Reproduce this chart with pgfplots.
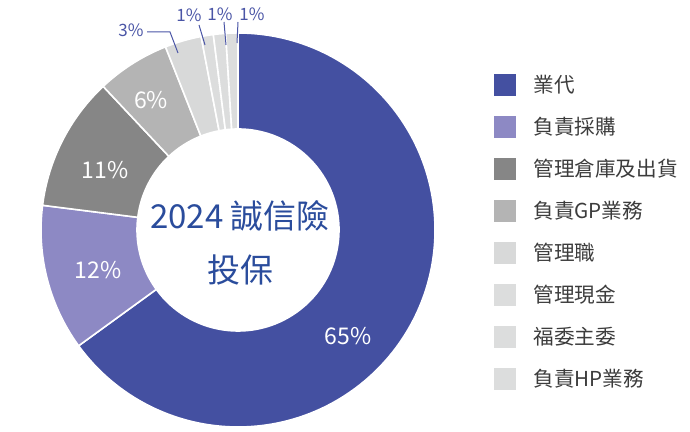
\documentclass[border=0pt]{standalone}
\usepackage{pgfplots}
\pgfplotsset{compat=1.18}
\usepackage{pgfplotstable}
\usepackage{fontspec}
\setmainfont{Noto Sans CJK TC}

\definecolor{sA}{HTML}{4450A1}
\definecolor{sB}{HTML}{8D89C4}
\definecolor{sC}{HTML}{868686}
\definecolor{sD}{HTML}{B4B4B4}
\definecolor{sE}{HTML}{D8D9D9}
\definecolor{sF}{HTML}{DCDDDD}
\definecolor{labblue}{HTML}{4A55A6}
\definecolor{ctrblue}{HTML}{2A4C9C}
\definecolor{legtxt}{HTML}{3C3C3C}

% share (%), slice colour, legend label
\pgfplotstableread[col sep=comma]{
value,col,name
65,sA,業代
12,sB,負責採購
11,sC,管理倉庫及出貨
6,sD,負責GP業務
3,sE,管理職
1,sF,管理現金
1,sF,福委主委
1,sF,負責HP業務
}\slices

\begin{document}
\begin{tikzpicture}
\begin{axis}[
    scale only axis,
    width=345pt, height=216pt, % 1 unit = 0.5pt, axis spans the whole picture
    xmin=0, xmax=690, ymin=0, ymax=432,
    hide axis, clip=false,
]
\path (axis cs:0,0) rectangle (axis cs:690,432);

% donut: centre (238,202), outer 197, inner 101 (axis units)
\def\cx{238}\def\cy{202}
\def\cum{0}
\pgfplotstablegetrowsof{\slices}
\pgfmathtruncatemacro\nlast{\pgfplotsretval-1}
\pgfplotsforeachungrouped \i in {0,...,\nlast} {
    \pgfplotstablegetelem{\i}{value}\of\slices \let\v\pgfplotsretval
    \pgfplotstablegetelem{\i}{col}\of\slices \let\c\pgfplotsretval
    \pgfplotstablegetelem{\i}{name}\of\slices \let\nm\pgfplotsretval
    \pgfmathsetmacro\aa{90-3.6*\cum}
    \pgfmathsetmacro\ab{90-3.6*(\cum+\v)}
    \pgfmathsetmacro\xa{\cx+197*cos(\aa)}\pgfmathsetmacro\ya{\cy+197*sin(\aa)}
    \pgfmathsetmacro\xb{\cx+101*cos(\ab)}\pgfmathsetmacro\yb{\cy+101*sin(\ab)}
    \edef\temp{\noexpand\fill[\c, draw=white, line width=0.8pt]
        (axis cs:\xa,\ya) arc[start angle=\aa, end angle=\ab, radius=98.5pt]
        -- (axis cs:\xb,\yb) arc[start angle=\ab, end angle=\aa, radius=50.5pt] -- cycle;}
    \temp
    % legend entry
    \pgfmathsetmacro\ly{432-85-42*\i}
    \edef\temp{\noexpand\fill[\c] (axis cs:494,{\ly-11}) rectangle (axis cs:516,{\ly+11});
        \noexpand\node[anchor=west, text=legtxt, font=\noexpand\fontsize{10.3}{12}\noexpand\selectfont, inner sep=0pt]
        at (axis cs:533,\ly) {\nm};}
    \temp
    \pgfmathsetmacro\cum{\cum+\v}
}

% percentages inside the ring
\begin{scope}[every node/.style={text=white, font=\fontsize{11.5}{13}\selectfont}]
\node at (axis cs:348,96) {65\%};
\node at (axis cs:98,162) {12\%};
\node at (axis cs:105,262) {11\%};
\node at (axis cs:151,332) {6\%};
\end{scope}

% small slices: labels outside with leader lines
\begin{scope}[every node/.style={text=labblue, font=\fontsize{8.5}{10}\selectfont}]
\draw[labblue, line width=0.5pt] (axis cs:147,400) -- (axis cs:170,400) -- (axis cs:178,379);
\node at (axis cs:131,402) {3\%};
\draw[labblue, line width=0.5pt] (axis cs:199,407) -- (axis cs:205,387);
\node at (axis cs:189,417) {1\%};
\draw[labblue, line width=0.5pt] (axis cs:224,410) -- (axis cs:226,387);
\node at (axis cs:220,418) {1\%};
\draw[labblue, line width=0.5pt] (axis cs:238,410) -- (axis cs:237,389);
\node at (axis cs:252,418) {1\%};
\end{scope}

% centre title
\node[text=ctrblue, font=\fontsize{16.5}{20}\selectfont] at (axis cs:240,216) {2024 誠信險};
\node[text=ctrblue, font=\fontsize{16.5}{20}\selectfont] at (axis cs:240,162) {投保};
\end{axis}
\end{tikzpicture}
\end{document}
